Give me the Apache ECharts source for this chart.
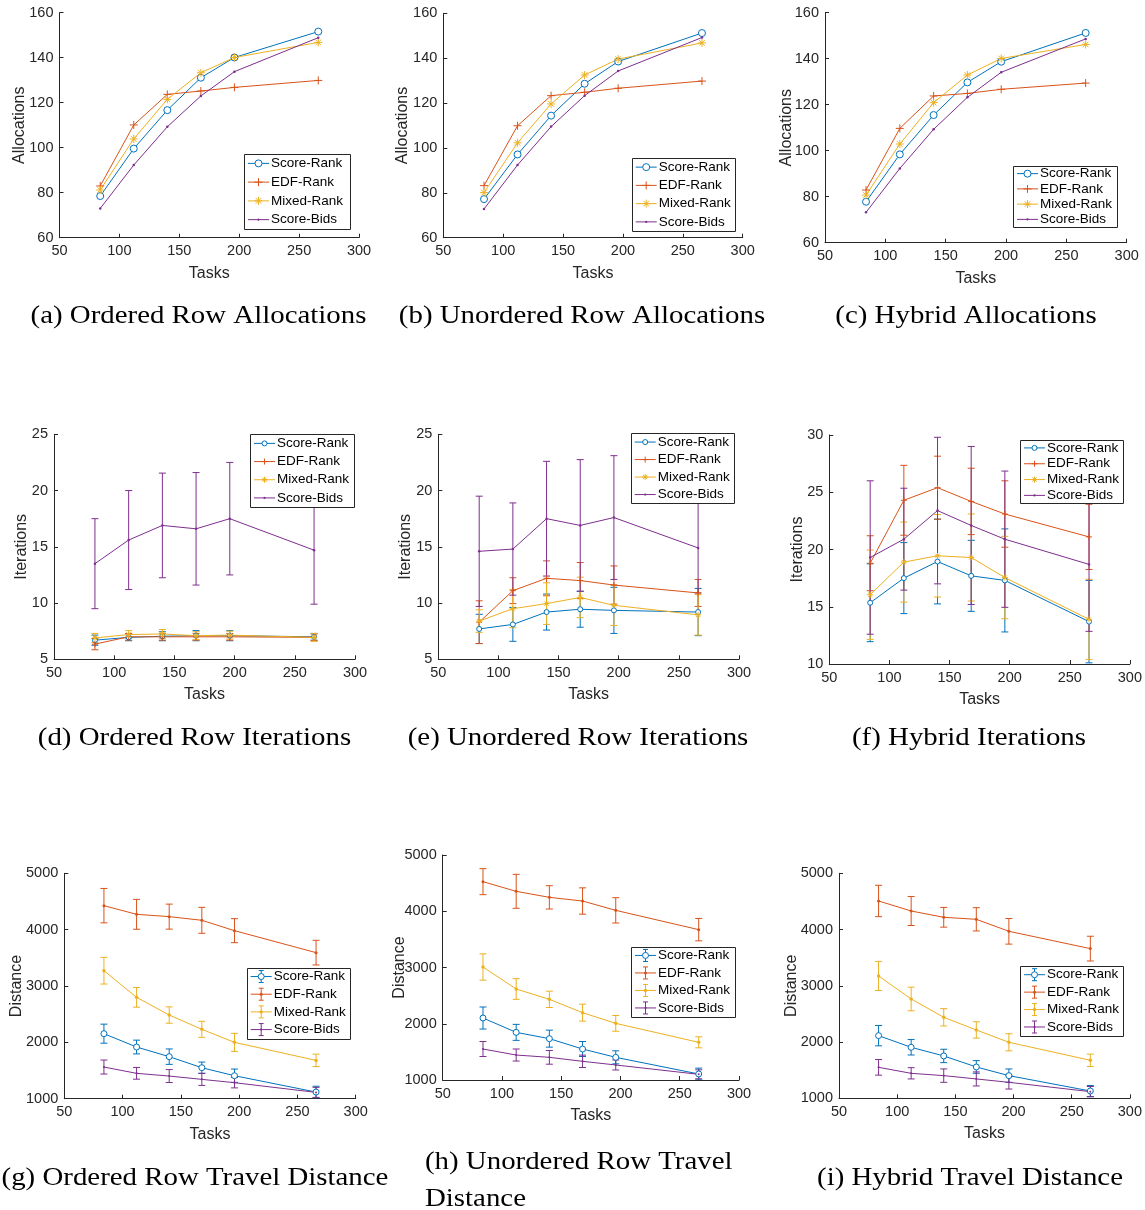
<!DOCTYPE html>
<html>
<head>
<meta charset="utf-8">
<script src="https://cdn.jsdelivr.net/npm/echarts@6/dist/echarts.min.js"></script>
<style>
html,body{margin:0;padding:0;background:#fff;}
#chart{width:1145px;height:1210px;}
</style>
</head>
<body>
<div id="chart"></div>
<script>
// ---------------- DATA ----------------
const tasks = [84, 112, 140, 168, 196, 266];
const seriesNames = ['Score-Rank', 'EDF-Rank', 'Mixed-Rank', 'Score-Bids'];
const xRange = [50, 300, 50];
const allocRange = [60, 160, 20];
const iterRange = [5, 25, 5];
const iterHybridRange = [10, 30, 5];
const distRange = [1000, 5000, 1000];

// series order in every table: Score-Rank, EDF-Rank, Mixed-Rank, Score-Bids
const allocOrdered = [
  [78.5, 99.6, 116.7, 131.1, 140.1, 151.6],
  [83.0, 110.1, 123.7, 125.2, 126.8, 129.9],
  [81.2, 103.9, 121.5, 133.3, 140.1, 146.8],
  [73.0, 92.3, 109.3, 123.0, 133.8, 148.9]
];
const allocUnordered = [
  [77.2, 97.1, 114.4, 128.6, 138.5, 151.2],
  [83.2, 109.9, 123.3, 124.8, 126.6, 129.8],
  [80.1, 102.3, 119.6, 132.5, 139.6, 146.8],
  [72.8, 92.4, 109.5, 123.3, 134.3, 149.2]
];
const allocHybrid = [
  [77.8, 98.4, 115.5, 129.7, 138.7, 151.2],
  [82.9, 109.7, 123.8, 124.9, 126.7, 129.4],
  [80.7, 102.9, 120.9, 132.9, 140.1, 146.2],
  [73.2, 92.3, 109.3, 123.2, 134.1, 148.6]
];

const iterOrdered = [
  [6.7, 6.95, 7.05, 7.1, 7.1, 7.0],
  [6.35, 7.0, 7.0, 7.0, 7.0, 6.95],
  [6.9, 7.2, 7.25, 7.1, 7.15, 6.95],
  [13.5, 15.6, 16.9, 16.6, 17.5, 14.7]
];
const iterOrderedErr = [
  [0.45, 0.3, 0.4, 0.45, 0.45, 0.3],
  [0.5, 0.3, 0.3, 0.3, 0.3, 0.3],
  [0.4, 0.35, 0.4, 0.35, 0.35, 0.35],
  [4.0, 4.4, 4.65, 5.0, 5.0, 4.8]
];
const iterUnordered = [
  [7.7, 8.1, 9.2, 9.45, 9.35, 9.2],
  [8.3, 11.1, 12.2, 12.0, 11.6, 10.9],
  [8.4, 9.5, 9.95, 10.5, 9.8, 8.95],
  [14.6, 14.8, 17.5, 16.9, 17.6, 14.9]
];
const iterUnorderedErr = [
  [1.3, 1.5, 1.6, 1.6, 2.05, 2.1],
  [1.9, 1.15, 1.55, 1.6, 1.7, 1.2],
  [1.0, 1.7, 1.85, 1.8, 1.8, 1.8],
  [4.9, 4.1, 5.1, 5.85, 5.5, 4.0]
];
const iterHybrid = [
  [15.35, 17.5, 18.95, 17.7, 17.3, 13.7],
  [18.8, 24.3, 25.4, 24.2, 23.1, 21.1],
  [16.05, 18.9, 19.45, 19.3, 17.55, 13.9],
  [19.3, 20.9, 23.4, 22.1, 20.9, 18.7]
];
const iterHybridErr = [
  [3.4, 3.1, 3.7, 3.1, 4.5, 3.6],
  [2.4, 3.05, 2.75, 2.9, 2.9, 2.85],
  [3.9, 3.5, 3.6, 3.8, 3.6, 3.5],
  [6.7, 4.45, 6.4, 6.9, 5.95, 5.85]
];

const distOrdered = [
  [2154, 1917, 1746, 1550, 1408, 1118],
  [4426, 4272, 4231, 4166, 3982, 3592],
  [3272, 2799, 2485, 2231, 2000, 1680],
  [1562, 1450, 1402, 1343, 1284, 1112]
];
const distOrderedErr = [
  [169, 122, 137, 100, 118, 103],
  [305, 265, 222, 230, 213, 219],
  [237, 175, 145, 142, 160, 110],
  [124, 104, 115, 107, 92, 89]
];
const distUnordered = [
  [2102, 1847, 1735, 1551, 1403, 1107],
  [4526, 4354, 4247, 4182, 4016, 3673],
  [3009, 2618, 2434, 2197, 2007, 1670],
  [1551, 1444, 1403, 1332, 1267, 1101]
];
const distUnorderedErr = [
  [196, 142, 151, 133, 116, 104],
  [231, 302, 207, 234, 225, 199],
  [234, 184, 145, 151, 140, 98],
  [133, 107, 122, 110, 89, 80]
];
const distHybrid = [
  [2114, 1907, 1753, 1557, 1403, 1130],
  [4508, 4330, 4218, 4182, 3969, 3661],
  [3175, 2766, 2440, 2215, 1996, 1676],
  [1551, 1444, 1403, 1344, 1284, 1118]
];
const distHybridErr = [
  [181, 137, 119, 113, 119, 98],
  [279, 258, 175, 207, 228, 220],
  [258, 210, 154, 145, 152, 110],
  [139, 100, 119, 125, 119, 92]
];

const captions = [
  '(a) Ordered Row Allocations', '(b) Unordered Row Allocations', '(c) Hybrid Allocations',
  '(d) Ordered Row Iterations', '(e) Unordered Row Iterations', '(f) Hybrid Iterations',
  '(g) Ordered Row Travel Distance', '(h) Unordered Row Travel', 'Distance', '(i) Hybrid Travel Distance'
];

// ---------------- LAYOUT / STYLE ----------------
const COLORS = ['#0072BD', '#D95319', '#EDB120', '#7E2F8E'];
const AX = '#262626';
const TXT = '#262626';
const SANS = '"Liberation Sans", Arial, Helvetica, sans-serif';
const SERIF = '"Liberation Serif", "Times New Roman", serif';
const PLUS = 'path://M5,0L5,10M0,5L10,5';
const STAR = 'path://M5,0L5,10M0,5L10,5M1.5,1.5L8.5,8.5M1.5,8.5L8.5,1.5';

const panels = [
  {grid: [59.5, 12.7, 299.5, 225], y: allocRange, yName: 'Allocations', yGap: 32, mean: allocOrdered, err: null, row: 0, legend: [244, 154, 106, 75]},
  {grid: [443.3, 13.3, 299.4, 224.4], y: allocRange, yName: 'Allocations', yGap: 33, mean: allocUnordered, err: null, row: 0, legend: [631.7, 158, 103.3, 73]},
  {grid: [825, 12.7, 301.7, 230], y: allocRange, yName: 'Allocations', yGap: 30.5, mean: allocHybrid, err: null, row: 0, legend: [1013, 166, 104, 61]},
  {grid: [54, 434.3, 301, 225], y: iterRange, yName: 'Iterations', yGap: 24, mean: iterOrdered, err: iterOrderedErr, row: 1, legend: [250, 434.3, 104, 72.7]},
  {grid: [438.3, 434.3, 300.7, 225], y: iterRange, yName: 'Iterations', yGap: 25, mean: iterUnordered, err: iterUnorderedErr, row: 1, legend: [630.7, 433.3, 103.3, 70]},
  {grid: [829.3, 435, 301.4, 229], y: iterHybridRange, yName: 'Iterations', yGap: 23.5, mean: iterHybrid, err: iterHybridErr, row: 1, legend: [1020, 440, 103.3, 63.3]},
  {grid: [64.3, 873.3, 291.4, 225.4], y: distRange, yName: 'Distance', yGap: 40, mean: distOrdered, err: distOrderedErr, row: 2, legend: [246.7, 967.7, 103.3, 70.7]},
  {grid: [442.7, 855, 296.3, 225], y: distRange, yName: 'Distance', yGap: 35.5, mean: distUnordered, err: distUnorderedErr, row: 2, legend: [631, 946.7, 104, 70]},
  {grid: [839, 873.3, 291.7, 225], y: distRange, yName: 'Distance', yGap: 39.5, mean: distHybrid, err: distHybridErr, row: 2, legend: [1020, 966, 103.3, 69.7]}
];

const rowMarkers = [
  [{sym: 'emptyCircle', size: 7}, {sym: PLUS, size: 8}, {sym: STAR, size: 8}, {sym: 'circle', size: 2.5}],
  [{sym: 'emptyCircle', size: 5}, {sym: PLUS, size: 6}, {sym: STAR, size: 6}, {sym: 'circle', size: 2.5}],
  [{sym: 'emptyCircle', size: 6}, {sym: 'circle', size: 3}, {sym: 'circle', size: 3.5}, {sym: 'circle', size: 2}]
];
const legendMarkers = [
  [['o', 3.5], ['+', 4], ['*', 4], ['.', 1.1]],
  [['o', 2.5], ['+', 3], ['*', 3], ['.', 1.1]],
  [['o', 3], ['.', 1.5], ['.', 1.7], ['.', 1.1]]
];
const captionPos = [
  [198.5, 316], [582, 316], [966, 316],
  [194.5, 738.5], [578, 738.5], [969, 738.5],
  [195, 1178], [425, 1162], [425, 1199], [970, 1178]
];

// ---------------- BUILD ----------------
const grids = [], xAxes = [], yAxes = [], series = [], graphics = [];

function axisCommon() {
  return {
    axisLine: {show: true, onZero: false, lineStyle: {color: AX, width: 1}},
    axisTick: {show: true, inside: true, length: 4, lineStyle: {color: AX, width: 1}},
    splitLine: {show: false},
    nameLocation: 'middle',
    nameMoveOverlap: false,
    nameTextStyle: {fontSize: 16, color: TXT, fontFamily: SANS}
  };
}

function errRender(color) {
  return function (params, api) {
    const x = api.value(0);
    const a = api.coord([x, api.value(1)]);
    const b = api.coord([x, api.value(2)]);
    const hw = 3.5;
    const st = {stroke: color, lineWidth: 1};
    return {
      type: 'group',
      children: [
        {type: 'line', shape: {x1: a[0], y1: a[1], x2: b[0], y2: b[1]}, style: st},
        {type: 'line', shape: {x1: a[0] - hw, y1: a[1], x2: a[0] + hw, y2: a[1]}, style: st},
        {type: 'line', shape: {x1: b[0] - hw, y1: b[1], x2: b[0] + hw, y2: b[1]}, style: st}
      ]
    };
  };
}

function markerElems(kind, cx, cy, r, color) {
  const st = {stroke: color, lineWidth: 1};
  const L = (x1, y1, x2, y2) => ({type: 'line', z: 102, silent: true, shape: {x1, y1, x2, y2}, style: st});
  if (kind === 'o') return [{type: 'circle', z: 102, silent: true, shape: {cx, cy, r}, style: {fill: '#fff', stroke: color, lineWidth: 1}}];
  if (kind === '.') return [{type: 'circle', z: 102, silent: true, shape: {cx, cy, r}, style: {fill: color}}];
  const out = [L(cx - r, cy, cx + r, cy), L(cx, cy - r, cx, cy + r)];
  if (kind === '*') {
    const d = r * 0.7;
    out.push(L(cx - d, cy - d, cx + d, cy + d), L(cx - d, cy + d, cx + d, cy - d));
  }
  return out;
}

const plainLabel = v => String(v);

panels.forEach((p, i) => {
  const [gl, gt, gw, gh] = p.grid;
  grids.push({left: gl, top: gt, width: gw, height: gh, containLabel: false});
  xAxes.push(Object.assign(axisCommon(), {
    type: 'value', gridIndex: i, min: xRange[0], max: xRange[1], interval: xRange[2],
    name: 'Tasks', nameGap: 27.5,
    axisLabel: {fontSize: 14.5, color: TXT, margin: 6, fontFamily: SANS, showMinLabel: true, showMaxLabel: true, formatter: plainLabel}
  }));
  yAxes.push(Object.assign(axisCommon(), {
    type: 'value', gridIndex: i, min: p.y[0], max: p.y[1], interval: p.y[2],
    name: p.yName, nameGap: p.yGap,
    axisLabel: {fontSize: 14.5, color: TXT, margin: 6, fontFamily: SANS, showMinLabel: true, showMaxLabel: true, formatter: plainLabel}
  }));
  for (let s = 0; s < 4; s++) {
    const c = COLORS[s];
    const mk = rowMarkers[p.row][s];
    const isEmpty = mk.sym === 'emptyCircle';
    series.push({
      type: 'line', name: seriesNames[s], xAxisIndex: i, yAxisIndex: i,
      data: tasks.map((t, k) => [t, p.mean[s][k]]),
      symbol: isEmpty ? 'circle' : mk.sym, symbolSize: mk.size, showSymbol: true, showAllSymbol: true,
      lineStyle: {color: c, width: 1},
      itemStyle: {color: isEmpty ? '#fff' : c, borderColor: c, borderWidth: mk.sym === 'circle' ? 0 : 1},
      emphasis: {disabled: true}, silent: true, animation: false
    });
    if (p.err) {
      series.push({
        type: 'custom', name: seriesNames[s] + ' err', xAxisIndex: i, yAxisIndex: i,
        data: tasks.map((t, k) => [t, p.mean[s][k] - p.err[s][k], p.mean[s][k] + p.err[s][k]]),
        encode: {x: 0, y: [1, 2]},
        renderItem: errRender(c), silent: true, animation: false, clip: true
      });
    }
  }
  // legend box
  const [lx, ly, lw, lh] = p.legend;
  const rx = Math.round(lx) + 0.5, ry = Math.round(ly) + 0.5;
  graphics.push({type: 'rect', z: 100, silent: true, shape: {x: rx, y: ry, width: Math.round(lw), height: Math.round(lh)},
    style: {fill: '#fff', stroke: AX, lineWidth: 1}});
  for (let s = 0; s < 4; s++) {
    const c = COLORS[s];
    const cy = ly + lh * (s + 0.5) / 4;
    const x0 = lx + 4, x1 = lx + 25, cx = lx + 14.5;
    graphics.push({type: 'line', z: 101, silent: true, shape: {x1: x0, y1: cy, x2: x1, y2: cy}, style: {stroke: c, lineWidth: 1}});
    if (p.row === 2) {
      const st = {stroke: c, lineWidth: 1};
      graphics.push({type: 'line', z: 101, silent: true, shape: {x1: cx, y1: cy - 6, x2: cx, y2: cy + 6}, style: st});
      graphics.push({type: 'line', z: 101, silent: true, shape: {x1: cx - 2.5, y1: cy - 6, x2: cx + 2.5, y2: cy - 6}, style: st});
      graphics.push({type: 'line', z: 101, silent: true, shape: {x1: cx - 2.5, y1: cy + 6, x2: cx + 2.5, y2: cy + 6}, style: st});
    }
    const lm = legendMarkers[p.row][s];
    markerElems(lm[0], cx, cy, lm[1], c).forEach(e => graphics.push(e));
    graphics.push({type: 'text', z: 102, silent: true, x: lx + 27, y: cy,
      style: {text: seriesNames[s], fontSize: 13.5, fontFamily: SANS, fill: '#000', align: 'left', verticalAlign: 'middle'}});
  }
});

captions.forEach((t, i) => {
  const [cx, cy] = captionPos[i];
  const leftAligned = (i === 7 || i === 8);
  graphics.push({type: 'text', z: 100, silent: true, x: cx, y: cy, scaleX: 1.11, scaleY: 1,
    style: {text: t, fontSize: 26, fontFamily: SERIF, fill: '#000', align: leftAligned ? 'left' : 'center', verticalAlign: 'middle'}});
});

const chart = echarts.init(document.getElementById('chart'), null, {renderer: 'canvas'});
chart.setOption({
  backgroundColor: '#fff',
  animation: false,
  grid: grids,
  xAxis: xAxes,
  yAxis: yAxes,
  series: series,
  graphic: {elements: graphics}
});
</script>
</body>
</html>
